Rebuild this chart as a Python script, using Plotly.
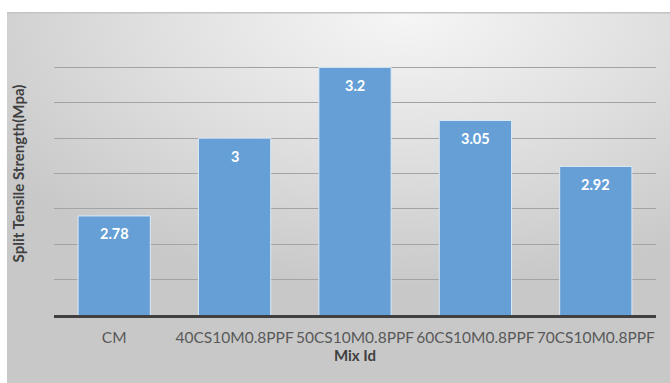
import base64
import plotly.graph_objects as go

categories = ["CM", "40CS10M0.8PPF", "50CS10M0.8PPF", "60CS10M0.8PPF", "70CS10M0.8PPF"]
values = [2.78, 3, 3.2, 3.05, 2.92]
labels = ["2.78", "3", "3.2", "3.05", "2.92"]

svg = """<svg xmlns='http://www.w3.org/2000/svg' width='663' height='371' viewBox='0 0 663 371' preserveAspectRatio='none'>
<defs>
<radialGradient id='g' cx='0.6' cy='0.0' r='0.75' fx='0.6' fy='0.0'>
<stop offset='0' stop-color='#f6f6f6'/><stop offset='0.5' stop-color='#e0e0e0'/><stop offset='1' stop-color='#c8c8c8'/></radialGradient>
</defs>
<rect x='0' y='0' width='663' height='371' fill='#c8c8c8'/>
<rect x='0' y='0' width='663' height='371' fill='url(#g)'/>
<rect x='0' y='0' width='663' height='1.5' fill='#c4c4c4'/>
</svg>"""
src = "data:image/svg+xml;base64," + base64.b64encode(svg.encode()).decode()

L, R, T, B = 54, 14, 32, 68
W, H = 670, 383
pw, ph = W - L - R, H - T - B
bx0 = (7 - L) / pw
bx1 = (W - L) / pw
by1 = (H - B - 12) / ph
by0 = (H - B - 383) / ph

fig = go.Figure()
fig.add_trace(go.Bar(
    x=categories, y=values,
    marker=dict(color="#659fd6", line=dict(color="#dbe9f6", width=1)),
    width=0.6,
    hoverinfo="skip",
))
for c, v, t in zip(categories, values, labels):
    fig.add_annotation(x=c, y=v, text=f"<b>{t}</b>", showarrow=False,
                       yanchor="middle", yshift=-18,
                       font=dict(family="Lato, Open Sans, sans-serif", size=14.5, color="white"))

fig.add_layout_image(dict(source=src, xref="paper", yref="paper", x=bx0, y=by1,
                          sizex=bx1 - bx0, sizey=by1 - by0, sizing="stretch",
                          xanchor="left", yanchor="top", layer="below"))

fig.update_layout(
    width=W, height=H,
    margin=dict(l=L, r=R, t=T, b=B, autoexpand=False),
    paper_bgcolor="white",
    plot_bgcolor="rgba(0,0,0,0)",
    showlegend=False,
    bargap=0.4,
    xaxis=dict(
        automargin=False,
        showgrid=False, showline=True, linecolor="#404040", linewidth=2.5,
        ticks="outside", ticklen=7, tickcolor="rgba(0,0,0,0)",
        tickfont=dict(family="Lato, Open Sans, sans-serif", size=15.5, color="#595959"),
        title=dict(text="<b>Mix Id</b>", standoff=4,
                   font=dict(family="Lato, Open Sans, sans-serif", size=15, color="#404040")),
    ),
    yaxis=dict(
        automargin=False,
        range=[2.5, 3.3], dtick=0.1, showgrid=True, gridcolor="#a3a3a3", gridwidth=1.3,
        showticklabels=False, zeroline=False, showline=False, ticks="",
        title=dict(text="<b>Split Tensile Strength(Mpa)</b>", standoff=24,
                   font=dict(family="Lato, Open Sans, sans-serif", size=15, color="#404040")),
    ),
)

fig.write_html("out.html", config={"displayModeBar": False},
               post_script="document.body.style.margin='0';document.body.style.padding='0';")
